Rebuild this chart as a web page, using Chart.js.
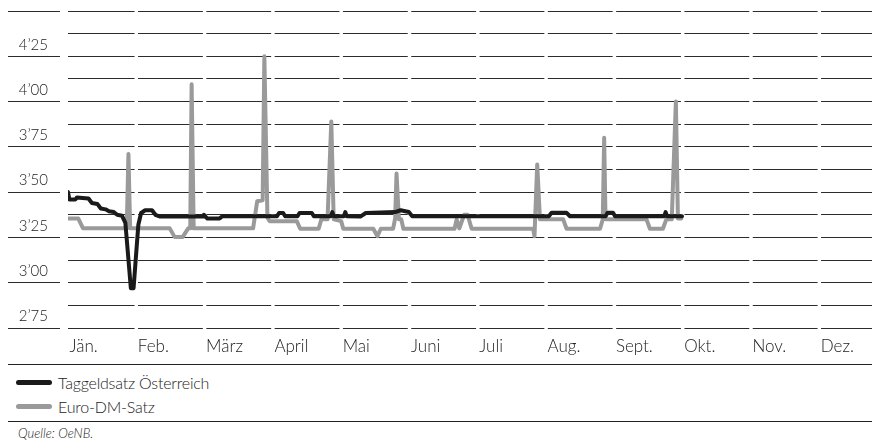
<!DOCTYPE html>
<html>
<head>
<meta charset="utf-8">
<script src="https://cdn.jsdelivr.net/npm/chart.js@4.4.1/dist/chart.umd.min.js"></script>
<style>
  body { margin: 0; width: 872px; height: 446px; background: #fff; overflow: hidden; font-family: "Lato Light", Lato, sans-serif; color: #222; }
  #wrap { position: absolute; left: 0; top: 0; width: 872px; height: 364px; }
  #legend { position: absolute; left: 8px; top: 364px; width: 864px; height: 58px; box-sizing: border-box;
            border-top: 1px solid #222; border-bottom: 1px solid #222; padding-top: 5px; }
  .row { height: 24px; display: flex; align-items: center; font-size: 16px; font-weight: 300; letter-spacing: -0.2px; }
  .sw { width: 36px; height: 5px; border-radius: 3px; margin-left: 8px; margin-right: 6px; }
  #src { position: absolute; left: 18px; top: 425px; font-size: 13px; font-style: italic; font-weight: 300; line-height: 16px; }
</style>
</head>
<body>
<div id="wrap"><canvas id="chart" width="872" height="364"></canvas></div>
<div id="legend"></div>
<div id="src">Quelle: OeNB.</div>
<script>
// months on x axis, positions below are in months since 1 Jan (0 = Jan 1, 1 = Feb 1, ...)
var months = ['Jän.', 'Feb.', 'März', 'April', 'Mai', 'Juni', 'Juli', 'Aug.', 'Sept.', 'Okt.', 'Nov.', 'Dez.'];
var yTickLabels = ['2’75', '3’00', '3’25', '3’50', '3’75', '4’00', '4’25'];

var taggeldT = [0, 0.02, 0.11, 0.13, 0.30, 0.35, 0.43, 0.48, 0.55, 0.60, 0.67, 0.72, 0.79, 0.84, 0.92, 0.96, 1.03, 1.07, 1.13, 1.23, 1.28, 1.35,
  1.98, 1.99, 2.01, 2.04, 2.22, 2.26, 3.06, 3.09, 3.15, 3.18, 3.36, 3.39, 3.57, 3.60, 3.85, 3.87, 3.89, 4.04, 4.06, 4.08,
  4.28, 4.36, 4.79, 4.87, 4.99, 5.04, 7.04, 7.08, 7.30, 7.35, 7.87, 7.90, 7.98, 8.01, 8.73, 8.75, 8.77, 8.99];
var taggeldV = [3.50, 3.46, 3.46, 3.47, 3.465, 3.44, 3.435, 3.41, 3.405, 3.395, 3.39, 3.375, 3.37, 3.33, 2.97, 2.97, 3.32, 3.385, 3.40, 3.40, 3.375, 3.365,
  3.365, 3.375, 3.365, 3.355, 3.355, 3.367, 3.367, 3.385, 3.385, 3.367, 3.367, 3.385, 3.385, 3.367, 3.367, 3.39, 3.367, 3.367, 3.39, 3.367,
  3.365, 3.385, 3.39, 3.40, 3.39, 3.367, 3.367, 3.386, 3.386, 3.367, 3.367, 3.386, 3.386, 3.367, 3.367, 3.39, 3.367, 3.367];

var euroT = [0, 0.15, 0.22, 0.86, 0.885, 0.91, 1.49, 1.56, 1.68, 1.76, 1.79, 1.81, 1.84, 2.71, 2.77, 2.85, 2.875, 2.92, 2.95, 3.35, 3.40,
  3.67, 3.71, 3.80, 3.855, 3.89, 4.00, 4.03, 4.47, 4.53, 4.58, 4.76, 4.79, 4.81, 4.845, 4.88, 4.91, 5.66, 5.69, 5.73, 5.80, 5.85, 5.91,
  6.81, 6.83, 6.87, 6.91, 7.25, 7.30, 7.79, 7.83, 7.85, 7.87, 8.47, 8.52, 8.71, 8.76, 8.84, 8.90, 8.93, 8.98];
var euroV = [3.355, 3.355, 3.30, 3.30, 3.71, 3.30, 3.30, 3.253, 3.253, 3.30, 3.30, 4.095, 3.30, 3.30, 3.45, 3.455, 4.25, 3.36, 3.34, 3.34, 3.298,
  3.298, 3.35, 3.35, 3.89, 3.35, 3.34, 3.298, 3.298, 3.257, 3.298, 3.298, 3.355, 3.603, 3.35, 3.35, 3.298, 3.298, 3.35, 3.30, 3.375, 3.375, 3.298,
  3.298, 3.257, 3.653, 3.35, 3.35, 3.298, 3.298, 3.35, 3.80, 3.35, 3.35, 3.298, 3.298, 3.35, 3.35, 4.00, 3.355, 3.355];

var gridColor = '#2b2b2b';

function pts(t, v) {
  return t.map(function (x, i) { return { x: x, y: v[i] }; });
}

var gridGaps = {
  id: 'gridGaps',
  beforeDatasetsDraw: function (chart) {
    var ctx = chart.ctx, area = chart.chartArea, sx = chart.scales.x, sy = chart.scales.y;
    ctx.save();
    // small white breaks in the rules at each month boundary
    ctx.fillStyle = '#fff';
    for (var i = 1; i < months.length; i++) {
      var px = sx.getPixelForValue(i);
      ctx.fillRect(px - 1.75, area.top - 2, 3.5, area.bottom - area.top + 4);
    }
    // short rules under the value labels
    ctx.strokeStyle = gridColor;
    ctx.lineWidth = 1;
    sy.ticks.forEach(function (t, i) {
      if (i % 2) return;
      var y = Math.round(sy.getPixelForValue(t.value) - 0.5) + 0.5;
      ctx.beginPath();
      ctx.moveTo(8, y);
      ctx.lineTo(60, y);
      ctx.stroke();
    });
    ctx.restore();
  }
};

Chart.defaults.font.family = '"Lato Light", Lato, sans-serif';
Chart.defaults.color = '#222';

var chart = new Chart(document.getElementById('chart'), {
  type: 'line',
  data: {
    datasets: [{
      label: 'Taggeldsatz Österreich',
      data: pts(taggeldT, taggeldV),
      borderColor: '#1a1a1a',
      borderWidth: 4
    }, {
      label: 'Euro-DM-Satz',
      data: pts(euroT, euroV),
      borderColor: '#9a9a9a',
      borderWidth: 4
    }]
  },
  options: {
    responsive: false,
    animation: false,
    devicePixelRatio: 1,
    layout: { padding: { top: 11, right: 0, left: 0, bottom: 0 } },
    elements: {
      point: { radius: 0 },
      line: { tension: 0, borderJoinStyle: 'round', borderCapStyle: 'round' }
    },
    plugins: { legend: { display: false }, tooltip: { enabled: false } },
    scales: {
      x: {
        type: 'linear',
        min: 0,
        max: (872 - 68) / 68.3,
        afterBuildTicks: function (s) { s.ticks = months.map(function (m, i) { return { value: i }; }); },
        afterFit: function (s) { s.height = 36; },
        grid: { display: false, drawTicks: false },
        border: { display: false },
        ticks: {
          autoSkip: false, maxRotation: 0, align: 'start', padding: 8, labelOffset: 1.5,
          font: { size: 17, weight: 300 },
          callback: function (v, i) { return months[i]; }
        }
      },
      y: {
        min: 2.75,
        max: 4.5,
        afterBuildTicks: function (s) {
          var t = [];
          for (var v = 2.75; v <= 4.5; v += 0.125) t.push({ value: v });
          s.ticks = t;
        },
        afterFit: function (s) { s.width = 68; },
        grid: { color: gridColor, lineWidth: 1, drawTicks: true, tickLength: 20, tickColor: 'rgba(0,0,0,0)' },
        border: { display: false },
        ticks: {
          autoSkip: false, padding: 0, labelOffset: -11.5,
          font: { size: 15, weight: 300 },
          callback: function (v, i) { return i % 2 === 0 && yTickLabels[i / 2] ? yTickLabels[i / 2] : ''; }
        }
      }
    }
  },
  plugins: [gridGaps]
});

// legend below the chart, built from the datasets
var lg = document.getElementById('legend');
chart.data.datasets.forEach(function (ds) {
  var row = document.createElement('div');
  row.className = 'row';
  var sw = document.createElement('span');
  sw.className = 'sw';
  sw.style.background = ds.borderColor;
  row.appendChild(sw);
  row.appendChild(document.createTextNode(ds.label));
  lg.appendChild(row);
});
</script>
</body>
</html>
